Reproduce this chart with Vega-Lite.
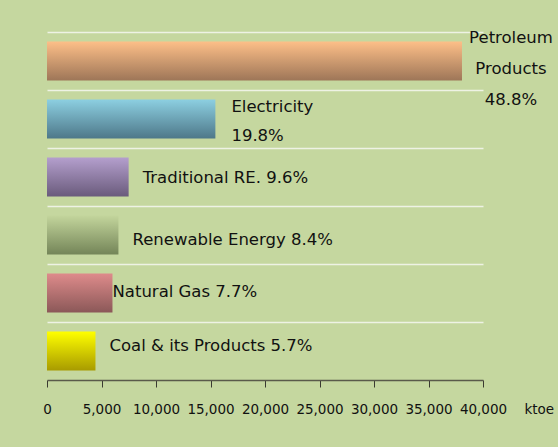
{
  "$schema": "https://vega.github.io/schema/vega-lite/v6.json",
  "autosize": {"type": "none"},
  "width": 436,
  "height": 348,
  "padding": {"left": 47, "top": 32, "right": 75, "bottom": 67},
  "background": "#c5d79f",
  "config": {"view": {"stroke": null}, "font": "DejaVu Sans"},
  "data": {"values": [
    {"source": "Petroleum Products", "ktoe": 38073, "label": ["Petroleum", "Products", "48.8%"]},
    {"source": "Electricity", "ktoe": 15448, "label": ["Electricity", "19.8%"]},
    {"source": "Traditional RE.", "ktoe": 7490, "label": "Traditional RE. 9.6%"},
    {"source": "Renewable Energy", "ktoe": 6554, "label": "Renewable Energy 8.4%"},
    {"source": "Natural Gas", "ktoe": 6007, "label": "Natural Gas 7.7%"},
    {"source": "Coal & its Products", "ktoe": 4447, "label": "Coal & its Products 5.7%"}
  ]},
  "encoding": {
    "y": {"field": "source", "type": "nominal",
      "sort": ["Petroleum Products", "Electricity", "Traditional RE.", "Renewable Energy", "Natural Gas", "Coal & its Products"],
      "scale": {"domain": ["Petroleum Products", "Electricity", "Traditional RE.", "Renewable Energy", "Natural Gas", "Coal & its Products"], "paddingInner": 0.33, "paddingOuter": 0.165},
      "axis": {"title": null, "labels": false, "ticks": false, "domain": false, "grid": true, "bandPosition": -0.246, "gridColor": "#eef2e4", "gridWidth": 1.5}},
    "x": {"field": "ktoe", "type": "quantitative",
      "scale": {"domain": [0, 40000], "nice": false},
      "axis": {"values": [0, 5000, 10000, 15000, 20000, 25000, 30000, 35000, 40000], "format": ",d", "grid": false, "labelOverlap": false, "labelFlush": false,
        "domainColor": "#5a5a4a", "domainWidth": 1.5, "tickColor": "#3a3a30", "tickSize": 7, "tickWidth": 1,
        "labelFontSize": 13.5, "labelColor": "#111111", "labelPadding": 15, "labelFont": "DejaVu Sans",
        "title": "ktoe", "titleFontWeight": "normal", "titleFontSize": 13.5, "titleColor": "#111111",
        "titleX": 477, "titleY": 29, "titleAlign": "left", "titleBaseline": "middle", "titleAngle": 0}}
  },
  "layer": [
    {"transform": [{"filter": "datum.source === 'Petroleum Products'"}],
     "mark": {"type": "bar", "color": {"gradient": "linear", "x1": 0, "y1": 0, "x2": 0, "y2": 1, "stops": [{"offset": 0, "color": "#fdbf88"}, {"offset": 1, "color": "#9e7658"}]}}},
    {"transform": [{"filter": "datum.source === 'Electricity'"}],
     "mark": {"type": "bar", "color": {"gradient": "linear", "x1": 0, "y1": 0, "x2": 0, "y2": 1, "stops": [{"offset": 0, "color": "#8ccfe1"}, {"offset": 1, "color": "#4e7889"}]}}},
    {"transform": [{"filter": "datum.source === 'Traditional RE.'"}],
     "mark": {"type": "bar", "color": {"gradient": "linear", "x1": 0, "y1": 0, "x2": 0, "y2": 1, "stops": [{"offset": 0, "color": "#b49fcd"}, {"offset": 1, "color": "#6a5b7c"}]}}},
    {"transform": [{"filter": "datum.source === 'Renewable Energy'"}],
     "mark": {"type": "bar", "color": {"gradient": "linear", "x1": 0, "y1": 0, "x2": 0, "y2": 1, "stops": [{"offset": 0, "color": "#c3d59c"}, {"offset": 1, "color": "#748558"}]}}},
    {"transform": [{"filter": "datum.source === 'Natural Gas'"}],
     "mark": {"type": "bar", "color": {"gradient": "linear", "x1": 0, "y1": 0, "x2": 0, "y2": 1, "stops": [{"offset": 0, "color": "#de8b8b"}, {"offset": 1, "color": "#8b5858"}]}}},
    {"transform": [{"filter": "datum.source === 'Coal & its Products'"}],
     "mark": {"type": "bar", "color": {"gradient": "linear", "x1": 0, "y1": 0, "x2": 0, "y2": 1, "stops": [{"offset": 0, "color": "#ffff00"}, {"offset": 1, "color": "#a89b00"}]}}},
    {"transform": [{"filter": "datum.source === 'Petroleum Products'"}],
     "mark": {"type": "text", "align": "center", "baseline": "middle", "dx": 49, "dy": -23, "fontSize": 16.5, "lineHeight": 31, "color": "#111111"},
     "encoding": {"text": {"field": "label"}}},
    {"transform": [{"filter": "datum.source === 'Electricity'"}],
     "mark": {"type": "text", "align": "left", "baseline": "middle", "dx": 16, "dy": -12, "fontSize": 16.5, "lineHeight": 29, "color": "#111111"},
     "encoding": {"text": {"field": "label"}}},
    {"transform": [{"filter": "datum.source === 'Traditional RE.'"}],
     "mark": {"type": "text", "align": "left", "baseline": "middle", "dx": 14, "dy": 1, "fontSize": 16.5, "color": "#111111"},
     "encoding": {"text": {"field": "label"}}},
    {"transform": [{"filter": "datum.source === 'Renewable Energy'"}],
     "mark": {"type": "text", "align": "left", "baseline": "middle", "dx": 14, "dy": 5, "fontSize": 16.5, "color": "#111111"},
     "encoding": {"text": {"field": "label"}}},
    {"transform": [{"filter": "datum.source === 'Natural Gas'"}],
     "mark": {"type": "text", "align": "left", "baseline": "middle", "dx": 0, "dy": -1, "fontSize": 16.5, "color": "#111111"},
     "encoding": {"text": {"field": "label"}}},
    {"transform": [{"filter": "datum.source === 'Coal & its Products'"}],
     "mark": {"type": "text", "align": "left", "baseline": "middle", "dx": 14, "dy": -5, "fontSize": 16.5, "color": "#111111"},
     "encoding": {"text": {"field": "label"}}}
  ]
}
